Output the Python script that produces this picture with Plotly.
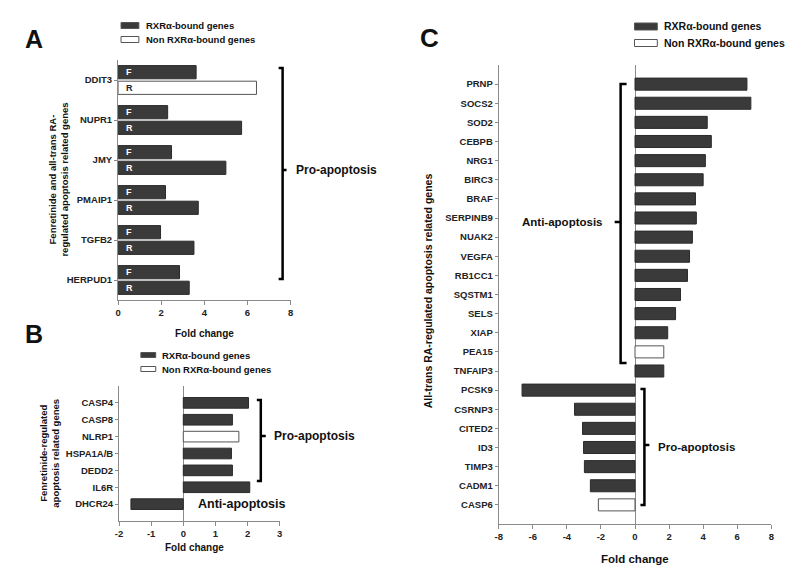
import plotly.graph_objects as go

W, H = 800, 570
FONT = "Liberation Sans"
DARK = "#3a3a3a"
EDGE = "#2b2b2b"
AXC = "#8a8a8a"

# ---------------- data ----------------
# Panel A (F = fenretinide, R = all-trans RA)
a_genes = ["DDIT3", "NUPR1", "JMY", "PMAIP1", "TGFB2", "HERPUD1"]
a_fen = [3.62, 2.30, 2.48, 2.20, 1.97, 2.85]
a_ra = [6.42, 5.73, 5.00, 3.72, 3.52, 3.30]
a_fen_bound = [True, True, True, True, True, True]
a_ra_bound = [False, True, True, True, True, True]
a_xticks = [0, 2, 4, 6, 8]

# Panel B
b_genes = ["CASP4", "CASP8", "NLRP1", "HSPA1A/B", "DEDD2", "IL6R", "DHCR24"]
b_vals = [2.03, 1.53, 1.73, 1.50, 1.53, 2.07, -1.63]
b_bound = [True, True, False, True, True, True, True]
b_xticks = [-2, -1, 0, 1, 2, 3]

# Panel C
c_genes = ["PRNP", "SOCS2", "SOD2", "CEBPB", "NRG1", "BIRC3", "BRAF", "SERPINB9",
           "NUAK2", "VEGFA", "RB1CC1", "SQSTM1", "SELS", "XIAP", "PEA15", "TNFAIP3",
           "PCSK9", "CSRNP3", "CITED2", "ID3", "TIMP3", "CADM1", "CASP6"]
c_vals = [6.57, 6.80, 4.24, 4.48, 4.13, 4.00, 3.55, 3.60, 3.37, 3.20, 3.08, 2.67,
          2.38, 1.92, 1.69, 1.69, -6.63, -3.55, -3.08, -3.02, -2.97, -2.62, -2.15]
c_bound = [True] * 14 + [False] + [True] * 7 + [False]
c_xticks = [-8, -6, -4, -2, 0, 2, 4, 6, 8]


def fills(bound):
    return [DARK if b else "white" for b in bound]


def edges(bound):
    return [EDGE if b else "#555555" for b in bound]


def px(x, y):
    return x / W, 1 - y / H


fig = go.Figure()

# Panel A traces
fig.add_trace(go.Bar(
    y=a_genes, x=a_fen, orientation="h", xaxis="x", yaxis="y",
    width=0.33, offset=-0.36,
    marker=dict(color=fills(a_fen_bound), line=dict(color=edges(a_fen_bound), width=1)),
    text=["  <b>F</b>"] * len(a_genes), textposition="inside", insidetextanchor="start",
    constraintext="none",
    textfont=dict(family=FONT, size=9,
                  color=["white" if b else "#222" for b in a_fen_bound]),
    showlegend=False))
fig.add_trace(go.Bar(
    y=a_genes, x=a_ra, orientation="h", xaxis="x", yaxis="y",
    width=0.33, offset=0.03,
    marker=dict(color=fills(a_ra_bound), line=dict(color=edges(a_ra_bound), width=1)),
    text=["  <b>R</b>"] * len(a_genes), textposition="inside", insidetextanchor="start",
    constraintext="none",
    textfont=dict(family=FONT, size=9,
                  color=["white" if b else "#222" for b in a_ra_bound]),
    showlegend=False))

# Panel B
fig.add_trace(go.Bar(
    y=b_genes, x=b_vals, orientation="h", xaxis="x2", yaxis="y2", width=0.63,
    marker=dict(color=fills(b_bound), line=dict(color=edges(b_bound), width=1)),
    showlegend=False))

# Panel C
fig.add_trace(go.Bar(
    y=c_genes, x=c_vals, orientation="h", xaxis="x3", yaxis="y3", width=0.63,
    marker=dict(color=fills(c_bound), line=dict(color=edges(c_bound), width=1)),
    showlegend=False))

tickfont = dict(family=FONT, size=9.5, color="#222")


def bold(v):
    return "<b>%s</b>" % v


def xax(dom, rng, ticks, anchor, zl):
    return dict(domain=dom, range=rng, tickvals=ticks, ticktext=[bold(t) for t in ticks],
                anchor=anchor,
                showline=True, linecolor=AXC, linewidth=1, ticks="outside",
                ticklen=4, tickcolor=AXC, showgrid=False, zeroline=zl,
                zerolinecolor=AXC, zerolinewidth=1, tickfont=tickfont, fixedrange=True)


def yax(dom, cats, rng, anchor):
    return dict(domain=dom, type="category", categoryarray=cats, categoryorder="array",
                tickvals=cats, ticktext=[bold(c) for c in cats],
                range=rng, anchor=anchor, showline=True, linecolor=AXC, linewidth=1,
                ticks="outside", ticklen=3, tickcolor=AXC, showgrid=False,
                zeroline=False, tickfont=tickfont, fixedrange=True)


layout = dict(
    width=W, height=H, margin=dict(l=0, r=0, t=0, b=0),
    paper_bgcolor="white", plot_bgcolor="white", barmode="overlay",
    font=dict(family=FONT, color="#222"),
    xaxis=xax([107 / W, 281 / W], [0, 8], a_xticks, "y", False),
    yaxis=yax([1 - 292 / H, 1 - 52 / H], a_genes, [5.5, -0.5], "x"),
    xaxis2=xax([108 / W, 270 / W], [-2, 3], b_xticks, "y2", True),
    yaxis2=yax([1 - 513 / H, 1 - 378 / H], b_genes, [7, -1], "x2"),
    xaxis3=xax([491 / W, 766 / W], [-8, 8.0], c_xticks, "y3", True),
    yaxis3=yax([1 - 516 / H, 1 - 57 / H], c_genes, [23, -1], "x3"),
)
fig.update_layout(**layout)

annotations = []
shapes = []


def text(x, y, s, size, anchor="left", angle=0, bold=True):
    X, Y = px(x, y)
    annotations.append(dict(x=X, y=Y, xref="paper", yref="paper",
                            text="<b>%s</b>" % s if bold else s,
                            showarrow=False, xanchor=anchor, yanchor="middle",
                            textangle=angle,
                            font=dict(family=FONT, size=size, color="#111")))


def rect(x0, y0, x1, y1, fill):
    X0, Y0 = px(x0, y0)
    X1, Y1 = px(x1, y1)
    shapes.append(dict(type="rect", xref="paper", yref="paper", x0=X0, y0=Y0, x1=X1, y1=Y1,
                       fillcolor=fill, line=dict(color="#555", width=1)))


def bracket(x, y0, y1, ymid, hook, tick):
    pts = [(x + hook, y0), (x, y0), (x, y1), (x + hook, y1)]
    p = "M " + " L ".join("%f,%f" % px(a, b) for a, b in pts)
    m0 = px(x, ymid)
    m1 = px(x + tick, ymid)
    p += " M %f,%f L %f,%f" % (m0[0], m0[1], m1[0], m1[1])
    shapes.append(dict(type="path", xref="paper", yref="paper", path=p,
                       line=dict(color="black", width=2.5)))


def legend(x, y_top, gap, bw, bh, tx, size):
    rect(x, y_top - bh / 2, x + bw, y_top + bh / 2, DARK)
    text(tx, y_top, "RXRα-bound genes", size)
    rect(x, y_top + gap - bh / 2, x + bw, y_top + gap + bh / 2, "white")
    text(tx, y_top + gap, "Non RXRα-bound genes", size)


# Panel labels
text(11, 31, "A", 25)
text(11, 326, "B", 25)
text(410, 30, "C", 26)

# Legends
legend(110, 17.5, 14, 18, 6, 133, 9.5)
legend(130, 347, 14, 15, 5, 149, 9.5)
legend(628, 18.5, 16.5, 23, 7, 656, 10.5)

# Axis titles
text(194, 325, "Fold change", 10, anchor="center")
text(184, 539, "Fold change", 10, anchor="center")
text(628, 551, "Fold change", 11.5, anchor="center")
text(46, 172, "Fenretinide and all-trans RA-<br>regulated apoptosis related genes", 9.5,
     anchor="center", angle=-90)
text(37, 445, "Fenretinide-regulated<br>apoptosis related genes", 9.5,
     anchor="center", angle=-90)
text(420, 283, "All-trans RA-regulated apoptosis related genes", 10.5,
     anchor="center", angle=-90)

# Brackets and group labels
bracket(273, 60, 271, 162, -4, 4)
text(284, 162, "Pro-apoptosis", 12)
bracket(251, 392, 473, 428, -4, 5)
text(262, 428, "Pro-apoptosis", 12)
text(186, 496, "Anti-apoptosis", 12.5)
bracket(614, 76, 355, 214, 6, -6)
text(598, 214, "Anti-apoptosis", 11.5, anchor="right")
bracket(638, 381, 497, 437, -4, 5)
text(650, 439, "Pro-apoptosis", 11.5)

fig.update_layout(annotations=annotations, shapes=shapes)
fig.write_html("out.html")
